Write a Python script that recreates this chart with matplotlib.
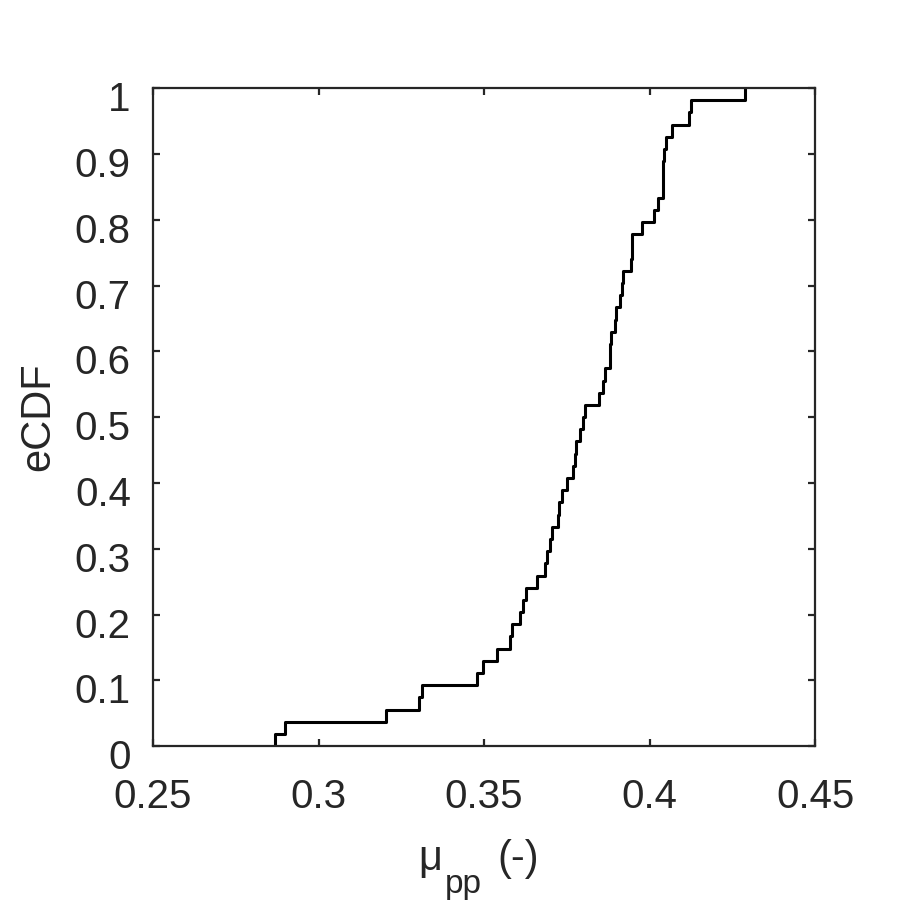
import numpy as np
import matplotlib
matplotlib.use("Agg")
import matplotlib.pyplot as plt
import matplotlib.transforms as mtransforms

# muestras ordenadas de mu_pp
mu_pp = [0.2869, 0.2898, 0.3203, 0.3304, 0.3312, 0.3478, 0.3496, 0.3538,
         0.3578, 0.3586, 0.3610, 0.3618, 0.3628, 0.3660, 0.3685, 0.3690,
         0.3700, 0.3705, 0.3723, 0.3727, 0.3735, 0.3750, 0.3770, 0.3774,
         0.3778, 0.3790, 0.3798, 0.3805, 0.3848, 0.3860, 0.3865, 0.3881,
         0.3882, 0.3884, 0.3897, 0.3900, 0.3911, 0.3916, 0.3919, 0.3944,
         0.3946, 0.3948, 0.3978, 0.4014, 0.4026, 0.4040, 0.4041, 0.4042,
         0.4043, 0.4050, 0.4067, 0.4120, 0.4124, 0.4287]

x_ticks = [0.25, 0.3, 0.35, 0.4, 0.45]
x_ticklabels = ["0.25", "0.3", "0.35", "0.4", "0.45"]
y_ticks = [0, 0.1, 0.2, 0.3, 0.4, 0.5, 0.6, 0.7, 0.8, 0.9, 1]
y_ticklabels = ["0", "0.1", "0.2", "0.3", "0.4", "0.5", "0.6", "0.7", "0.8", "0.9", "1"]

plt.rcParams["font.family"] = ["Liberation Sans", "DejaVu Sans"]

x = np.sort(np.array(mu_pp))
n = len(x)
xs = np.concatenate(([x[0]], x))
F = np.arange(0, n + 1) / n

fig = plt.figure(figsize=(9, 9), dpi=100)
ax = fig.add_axes([0.17, 0.171, 0.7356, 0.7311])
ax.step(xs, F, where="post", color="black", linewidth=2.2)

ax.set_xlim(0.25, 0.45)
ax.set_ylim(0, 1)
ax.set_xticks(x_ticks)
ax.set_xticklabels(x_ticklabels)
ax.set_yticks(y_ticks)
ax.set_yticklabels(y_ticklabels)

col = "#262626"
fs = 29
for s in ax.spines.values():
    s.set_linewidth(1.6)
    s.set_color(col)
ax.tick_params(direction="in", length=5, width=1.6, color=col,
               top=True, right=True, labelsize=fs, labelcolor=col)
ax.tick_params(axis="x", pad=23)
ax.tick_params(axis="y", pad=16)

# etiquetas del eje y un poco desplazadas hacia abajo (como en MATLAB)
off = mtransforms.ScaledTranslation(0, -8 / 100, fig.dpi_scale_trans)
for lab in ax.get_yticklabels():
    lab.set_transform(lab.get_transform() + off)

ax.set_ylabel("eCDF", fontsize=30, color=col, labelpad=12)

# etiqueta x: mu con subindice pp
fig.text(0.4644, 0.0333, "\u03bc", fontsize=30, color=col, va="baseline")
fig.text(0.4944, 0.0078, "pp", fontsize=24, color=col, va="baseline")
fig.text(0.5522, 0.0333, "(-)", fontsize=30, color=col, va="baseline")

fig.savefig("out.png", dpi=100)
